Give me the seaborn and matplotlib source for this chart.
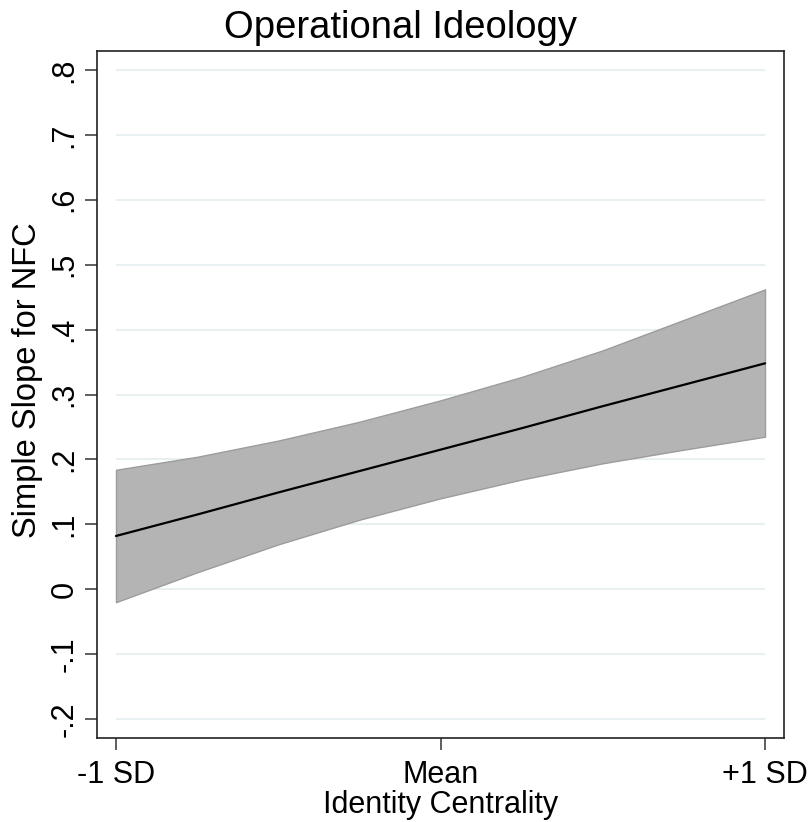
import matplotlib
matplotlib.use("Agg")
import matplotlib.pyplot as plt
import numpy as np
import pandas as pd
import seaborn as sns

# values (Identity Centrality in SD units)
centrality = [-1.0, -0.75, -0.5, -0.25, 0.0, 0.25, 0.5, 0.75, 1.0]
slope = [0.082, 0.115, 0.149, 0.182, 0.215, 0.248, 0.282, 0.315, 0.348]
ci_upper = [0.184, 0.204, 0.229, 0.258, 0.291, 0.327, 0.368, 0.415, 0.462]
ci_lower = [-0.020, 0.026, 0.069, 0.107, 0.140, 0.169, 0.194, 0.215, 0.235]

x_ticks = [-1, 0, 1]
x_labels = ["-1 SD", "Mean", "+1 SD"]
y_ticks = [-0.2, -0.1, 0, 0.1, 0.2, 0.3, 0.4, 0.5, 0.6, 0.7, 0.8]
y_labels = ["-.2", "-.1", "0", ".1", ".2", ".3", ".4", ".5", ".6", ".7", ".8"]

df = pd.DataFrame({"centrality": centrality, "slope": slope,
                   "upper": ci_upper, "lower": ci_lower})

sns.set_style("white")
plt.rcParams['font.family'] = ['Liberation Sans', 'DejaVu Sans']
plt.rcParams['text.color'] = 'black'
plt.rcParams['axes.labelcolor'] = 'black'
plt.rcParams['xtick.labelcolor'] = 'black'
plt.rcParams['ytick.labelcolor'] = 'black'

fig = plt.figure(figsize=(8.1, 8.22), dpi=100)
ax = fig.add_axes([97 / 810, 1 - 738 / 822, 687 / 810, 687 / 822])

# light grid lines only across the data range, like Stata
for yt in y_ticks:
    ax.hlines(yt, -1, 1, color='#e8f0f1', linewidth=1.5, zorder=0)

ax.fill_between(df["centrality"], df["lower"], df["upper"],
                facecolor='#b4b4b4', edgecolor='#9c9c9c', linewidth=1.0, zorder=1)
sns.lineplot(data=df, x="centrality", y="slope", color='black', linewidth=1.6, ax=ax, zorder=2)

ax.set_xlim(-1.0585, 1.0585)
ax.set_ylim(-0.2293, 0.8293)

ax.set_xticks(x_ticks)
ax.set_xticklabels(x_labels, fontsize=22)
ax.set_yticks(y_ticks)
ax.set_yticklabels(y_labels, fontsize=22, rotation=90, va='center')

ax.tick_params(axis='both', direction='out', length=8.6, width=1.1, color='#333333',
               left=True, bottom=True)
ax.tick_params(axis='x', pad=7)
ax.tick_params(axis='y', pad=4)

for spine in ax.spines.values():
    spine.set_color('#222222')
    spine.set_linewidth(1.2)

ax.set_xlabel("Identity Centrality", fontsize=22, labelpad=0)
ax.set_ylabel("Simple Slope for NFC", fontsize=23.5)
ax.yaxis.set_label_coords(-0.078, 0.521)

fig.text(400 / 810, 1 - 38 / 822, "Operational Ideology", fontsize=27.5,
         ha='center', va='baseline')

fig.savefig("out.png", dpi=100)
